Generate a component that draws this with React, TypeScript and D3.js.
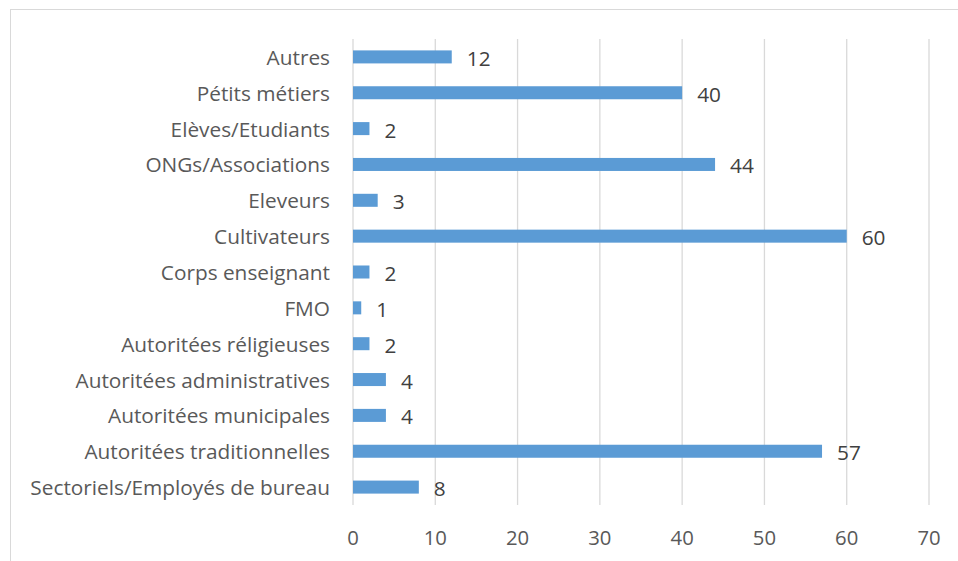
import { useMemo } from 'react';
import * as d3 from 'd3';

// categories top -> bottom, as shown in the picture
const categories = [
  'Autres',
  'Pétits métiers',
  'Elèves/Etudiants',
  'ONGs/Associations',
  'Eleveurs',
  'Cultivateurs',
  'Corps enseignant',
  'FMO',
  'Autoritées réligieuses',
  'Autoritées administratives',
  'Autoritées municipales',
  'Autoritées traditionnelles',
  'Sectoriels/Employés de bureau',
];
const values = [12, 40, 2, 44, 3, 60, 2, 1, 2, 4, 4, 57, 8];
const xTicks = [0, 10, 20, 30, 40, 50, 60, 70];

const W = 958;
const H = 561;
const margin = { top: 39, left: 353, right: 29, bottom: 56 };
const font = "'Open Sans', sans-serif";
const textColor = '#595959';
const fs = 20.8;

const App = () => {
  const x = useMemo(
    () => d3.scaleLinear().domain([0, 70]).range([margin.left, W - margin.right]),
    []
  );
  const y = useMemo(
    () =>
      d3
        .scaleBand<string>()
        .domain(categories)
        .range([margin.top, H - margin.bottom])
        .paddingInner(0.637)
        .paddingOuter(0.318),
    []
  );

  return (
    <svg
      width={W}
      height={H}
      style={{ position: 'absolute', left: 0, top: 0, background: '#fff' }}
      fontFamily={font}
    >
      <rect x={10.5} y={9.5} width={W} height={H} fill="#fff" stroke="#d9d9d9" />
      {xTicks.map((t) => (
        <g key={t}>
          <line x1={x(t)} x2={x(t)} y1={margin.top} y2={H - margin.bottom} stroke="#d9d9d9" strokeWidth={1.3} />
          <text x={x(t)} y={537} textAnchor="middle" dominantBaseline="central" fontSize={fs - 0.5} fill={textColor}>
            {t}
          </text>
        </g>
      ))}
      {categories.map((c, i) => {
        const yy = y(c)!;
        const bw = y.bandwidth();
        return (
          <g key={c}>
            <rect x={x(0)} y={yy} width={x(values[i]) - x(0)} height={bw} fill="#5b9bd5" />
            <text x={330} y={yy + bw / 2} textAnchor="end" dominantBaseline="central" fontSize={fs} fill={textColor}>
              {c}
            </text>
            <text x={x(values[i]) + 15} y={yy + bw / 2 + 1} dominantBaseline="central" fontSize={fs} fill="#404040">
              {values[i]}
            </text>
          </g>
        );
      })}
    </svg>
  );
};

export default App;
